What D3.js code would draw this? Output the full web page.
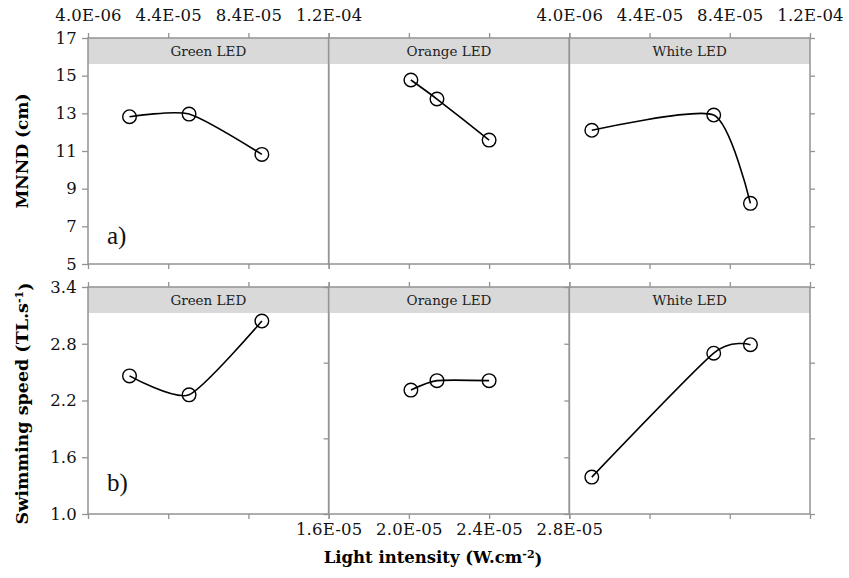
<!DOCTYPE html>
<html>
<head>
<meta charset="utf-8">
<script src="https://cdn.jsdelivr.net/npm/d3@7"></script>
<style>
  body { margin: 0; background: #fff; }
  text { font-family: "DejaVu Serif", serif; }
</style>
</head>
<body>
<svg id="chart" width="849" height="578"></svg>
<script>
// LED colour of each panel column
const leds = ["Green LED", "Orange LED", "White LED"];

// light intensity (W.cm-2) measured for each LED
const intensityGreen  = [2.47e-5, 5.44e-5, 9.07e-5];
const intensityOrange = [2.01e-5, 2.14e-5, 2.40e-5];
const intensityWhite  = [1.52e-5, 7.60e-5, 9.43e-5];

// mean nearest neighbour distance (cm)
const mnndGreen  = [12.82, 12.96, 10.82];
const mnndOrange = [14.77, 13.76, 11.58];
const mnndWhite  = [12.10, 12.91, 8.22];

// swimming speed (TL.s-1)
const speedGreen  = [2.46, 2.26, 3.04];
const speedOrange = [2.31, 2.41, 2.41];
const speedWhite  = [1.39, 2.70, 2.79];

// tick values
const xTicksWide   = [4.0e-6, 4.4e-5, 8.4e-5, 1.24e-4];
const xTicksNarrow = [1.6e-5, 2.0e-5, 2.4e-5, 2.8e-5];
const mnndTicks  = [5, 7, 9, 11, 13, 15, 17];
const speedTicks = [1.0, 1.6, 2.2, 2.8, 3.4];
const speedAltTicks = [1.0, 1.8, 2.6, 3.4];

const svg = d3.select("#chart");
const GRID = "#939393";
const left = 88, right = 810;
const pw = (right - left) / 3;
const stripH = 26;

const xTickSets = [xTicksWide, xTicksNarrow, xTicksWide];
const intensities = [intensityGreen, intensityOrange, intensityWhite];

const rows = [
  { top: 38, bottom: 264, ticks: mnndTicks, fmt: d3.format("d"),
    values: [mnndGreen, mnndOrange, mnndWhite], tag: "a)",
    topLabels: [true, false, true], bottomLabels: [false, false, false] },
  { top: 287, bottom: 514, ticks: speedTicks, fmt: d3.format(".1f"),
    values: [speedGreen, speedOrange, speedWhite], tag: "b)",
    topLabels: [false, false, false], bottomLabels: [false, true, false] }
];

// 4.0E-06 style labels
const sci = v => {
  const [m, e] = v.toExponential(1).split("e");
  const n = Math.abs(+e);
  return m + "E" + (+e < 0 ? "-" : "+") + (n < 10 ? "0" : "") + n;
};

function styleAxis(g) {
  g.select(".domain").remove();
  g.selectAll(".tick line").attr("stroke", GRID).attr("stroke-width", 1.3);
  g.selectAll(".tick text").attr("fill", "#111")
    .style("font-family", "'DejaVu Serif', serif")
    .style("font-size", "16.5px")
    .style("letter-spacing", "0.2px");
}

rows.forEach((row, ri) => {
  const y = d3.scaleLinear().domain([row.ticks[0], row.ticks[row.ticks.length - 1]])
    .range([row.bottom, row.top]);
  row.y = y;

  leds.forEach((led, i) => {
    const x0 = left + i * pw, x1 = x0 + pw;
    const xt = xTickSets[i];
    const x = d3.scaleLinear().domain([xt[0], xt[xt.length - 1]]).range([x0, x1]);

    // strip with LED name
    svg.append("rect").attr("x", x0).attr("y", row.top)
      .attr("width", pw).attr("height", stripH).attr("fill", "#d9d9d9");
    svg.append("text").attr("x", (x0 + x1) / 2).attr("y", row.top + stripH / 2)
      .attr("dy", "0.35em").attr("text-anchor", "middle")
      .style("font-size", "13.5px").attr("fill", "#222").text(led);

    // panel frame
    svg.append("rect").attr("x", x0).attr("y", row.top)
      .attr("width", pw).attr("height", row.bottom - row.top)
      .attr("fill", "none").attr("stroke", GRID).attr("stroke-width", 1.5);

    // x ticks above and below the panel
    svg.append("g").attr("transform", `translate(0,${row.top})`)
      .call(d3.axisTop(x).tickValues(xt).tickSize(5).tickPadding(12)
        .tickFormat(row.topLabels[i] ? sci : () => ""))
      .call(styleAxis);
    svg.append("g").attr("transform", `translate(0,${row.bottom})`)
      .call(d3.axisBottom(x).tickValues(xt).tickSize(5).tickPadding(4)
        .tickFormat(row.bottomLabels[i] ? sci : () => ""))
      .call(styleAxis);

    // smoothed response curve and open circle markers
    const pts = intensities[i].map((v, k) => [x(v), y(row.values[i][k])]);
    svg.append("path").attr("d", d3.line().curve(d3.curveCardinal.tension(0.35))(pts))
      .attr("fill", "none").attr("stroke", "#000").attr("stroke-width", 1.6);
    svg.append("g").selectAll("circle").data(pts).join("circle")
      .attr("cx", d => d[0]).attr("cy", d => d[1]).attr("r", 6.8)
      .attr("fill", "none").attr("stroke", "#000").attr("stroke-width", 1.4);
  });

  // y axis with labels on the left
  svg.append("g").attr("transform", `translate(${left},0)`)
    .call(d3.axisLeft(y).tickValues(row.ticks).tickSize(6).tickPadding(5).tickFormat(row.fmt))
    .call(styleAxis);

  // panel tag
  svg.append("text").attr("x", 107).attr("y", ri === 0 ? 244 : 491)
    .style("font-family", "'Liberation Serif', serif").style("font-size", "25px")
    .attr("fill", "#111").text(row.tag);
});

// unlabeled ticks on the other panel edges
const [rowA, rowB] = rows;
svg.append("g").attr("transform", `translate(${right},0)`)
  .call(d3.axisRight(rowA.y).tickValues(mnndTicks).tickSize(5).tickFormat(() => ""))
  .call(styleAxis);
svg.append("g").attr("transform", `translate(${left + pw},0)`)
  .call(d3.axisLeft(rowB.y).tickValues(speedAltTicks).tickSize(5).tickFormat(() => ""))
  .call(styleAxis);
svg.append("g").attr("transform", `translate(${left + 2 * pw},0)`)
  .call(d3.axisLeft(rowB.y).tickValues(speedTicks).tickSize(5).tickFormat(() => ""))
  .call(styleAxis);
svg.append("g").attr("transform", `translate(${right},0)`)
  .call(d3.axisRight(rowB.y).tickValues(speedAltTicks).tickSize(5).tickFormat(() => ""))
  .call(styleAxis);

// axis titles
const titleStyle = t => t.style("font-weight", "bold").style("font-size", "17px").attr("fill", "#000");

svg.append("text").attr("transform", `translate(22,${(rowA.top + rowA.bottom) / 2}) rotate(-90)`)
  .attr("text-anchor", "middle").attr("dy", "0.35em").call(titleStyle).text("MNND (cm)");

const ts = svg.append("text")
  .attr("transform", `translate(22,${(rowB.top + rowB.bottom) / 2 + 3}) rotate(-90)`)
  .attr("text-anchor", "middle").attr("dy", "0.35em").call(titleStyle)
  .style("font-size", "17.5px");
ts.append("tspan").text("Swimming speed (TL.s");
ts.append("tspan").attr("dy", "-0.45em").style("font-size", "11px").text("-1");
ts.append("tspan").attr("dy", "0.45em").text(")");

const tx = svg.append("text").attr("x", 433).attr("y", 563)
  .attr("text-anchor", "middle").call(titleStyle).style("font-size", "16.5px");
tx.append("tspan").text("Light intensity (W.cm");
tx.append("tspan").attr("dy", "-0.45em").style("font-size", "11px").text("-2");
tx.append("tspan").attr("dy", "0.45em").text(")");
</script>
</body>
</html>
